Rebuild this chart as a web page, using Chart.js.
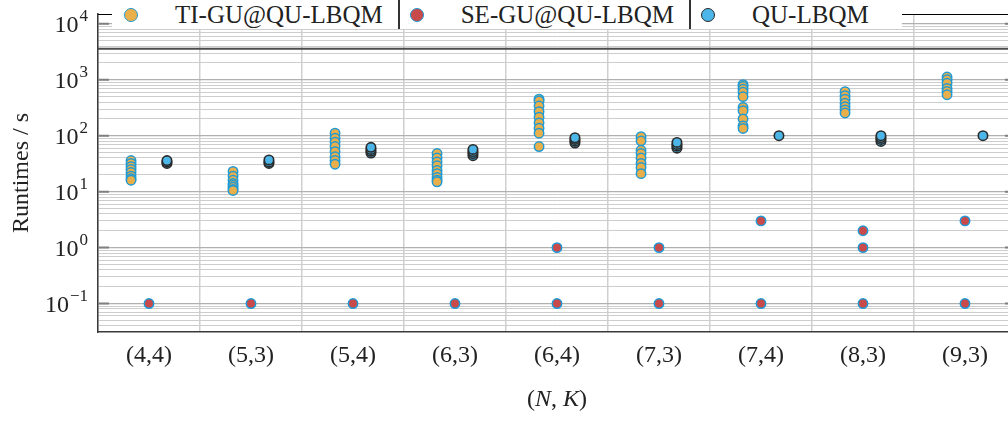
<!DOCTYPE html>
<html lang="en">
<head>
    <meta charset="UTF-8">
    <title>Runtimes per (N,K)</title>
    <script src="https://cdn.jsdelivr.net/npm/chart.js"></script>
    <style>
        html, body {
            margin: 0;
            padding: 0;
            background: #fff;
            overflow: hidden;
        }

        .wrap {
            position: relative;
            width: 1024px;
            height: 421px;
        }

        .legend {
            position: absolute;
            left: 112px;
            top: 0;
            width: 790px;
            height: 29px;
            background: #fff;
            display: flex;
            align-items: center;
            padding-left: 12px;
            box-sizing: border-box;
            font-family: 'Liberation Serif', serif;
            font-size: 25px;
            color: #222;
        }

        .legend .dot {
            width: 12px;
            height: 12px;
            border-radius: 50%;
            border: 1.5px solid;
            flex: none;
        }

        .legend .name {
            margin-left: 37px;
            margin-right: 15px;
            white-space: nowrap;
        }

        .legend .sep {
            width: 2px;
            align-self: stretch;
            background: #333;
            margin-right: 10px;
        }
    </style>
</head>
<body>
    <div class="wrap">
        <canvas id="runtimeChart"></canvas>
        <div class="legend" id="legend"></div>
    </div>

    <script>
        // categories and runtimes (seconds)
        const categories = ['(4,4)', '(5,3)', '(5,4)', '(6,3)', '(6,4)', '(7,3)', '(7,4)', '(8,3)', '(9,3)'];
        const seriesNames = ['TI-GU@QU-LBQM', 'SE-GU@QU-LBQM', 'QU-LBQM'];

        const tiGuRuntimes = [
            [36, 32, 28, 25, 22, 19, 17, 16],
            [23, 19, 16, 14, 13, 12, 11, 10.5],
            [111, 90, 77, 64, 52, 42, 36, 31],
            [48, 40, 34, 29, 24, 21, 18, 16, 15],
            [450, 420, 340, 270, 215, 170, 136, 111, 64],
            [96, 81, 55, 48, 40, 32, 27, 21],
            [820, 760, 680, 600, 500, 320, 280, 200, 150, 135],
            [615, 520, 450, 380, 330, 290, 255],
            [1120, 1000, 870, 700, 620, 540]
        ];
        const seGuRuntimes = [
            [0.1], [0.1], [0.1], [0.1], [0.1, 1], [0.1, 1], [0.1, 3], [0.1, 1, 2], [0.1, 3]
        ];
        const quLbqmRuntimes = [
            [32, 34, 36],
            [32, 34, 37],
            [49, 53, 57, 62],
            [44, 48, 52, 57],
            [74, 80, 86, 92],
            [60, 65, 70, 76],
            [100],
            [79, 86, 93, 100],
            [100]
        ];
        const timeoutSeconds = 3600;
        const yExponents = [-1, 0, 1, 2, 3, 4];
        const yRange = [0.031, 15000];
        const yTitle = 'Runtimes / s';

        // look of the three series
        const seriesStyles = [
            { fill: '#E9AF4A', edge: '#1E9AD6', shift: -0.176 },
            { fill: '#C94A4B', edge: '#1E9AD6', shift: 0 },
            { fill: '#4DB6E8', edge: '#2a2a2a', shift: 0.176 }
        ];
        const serif = "'Liberation Serif', serif";

        function toPoints(groups, shift) {
            const pts = [];
            groups.forEach((vals, i) => vals.forEach(v => pts.push({ x: i + shift, y: v })));
            return pts;
        }

        const runtimeSets = [tiGuRuntimes, seGuRuntimes, quLbqmRuntimes];
        const datasets = runtimeSets.map((groups, k) => ({
            type: 'scatter',
            label: seriesNames[k],
            data: toPoints(groups, seriesStyles[k].shift),
            backgroundColor: seriesStyles[k].fill,
            borderColor: seriesStyles[k].edge,
            pointRadius: 4.7,
            pointBorderWidth: k === 2 ? 1.6 : 1.5
        }));
        datasets.push({
            type: 'line',
            label: 'timeout',
            data: [{ x: -0.5, y: timeoutSeconds }, { x: categories.length - 0.5, y: timeoutSeconds }],
            borderColor: '#4d4d4d',
            borderWidth: 2,
            pointRadius: 0
        });

        // legend as plain html over the top frame
        const legendEl = document.getElementById('legend');
        seriesNames.forEach((name, k) => {
            if (k > 0) {
                const sep = document.createElement('span');
                sep.className = 'sep';
                legendEl.appendChild(sep);
            }
            const dot = document.createElement('span');
            dot.className = 'dot';
            dot.style.background = seriesStyles[k].fill;
            dot.style.borderColor = seriesStyles[k].edge;
            legendEl.appendChild(dot);
            const txt = document.createElement('span');
            txt.className = 'name';
            txt.textContent = name;
            legendEl.appendChild(txt);
        });

        // frame top, inward ticks, 10^n labels, axis titles
        const axisDecor = {
            id: 'axisDecor',
            afterDraw(chart) {
                const { ctx, chartArea: a, scales: { x, y } } = chart;
                ctx.save();

                ctx.strokeStyle = '#000';
                ctx.lineWidth = 1;
                ctx.beginPath();
                ctx.moveTo(a.left, a.top + 0.5);
                ctx.lineTo(a.right, a.top + 0.5);
                ctx.stroke();

                ctx.strokeStyle = '#808080';
                ctx.lineWidth = 2;
                y.ticks.filter(t => t.major).forEach(t => {
                    const py = y.getPixelForValue(t.value);
                    ctx.beginPath();
                    ctx.moveTo(a.left, py);
                    ctx.lineTo(a.left + 11, py);
                    ctx.moveTo(a.right, py);
                    ctx.lineTo(a.right - 11, py);
                    ctx.stroke();
                });

                ctx.fillStyle = '#222';
                ctx.textBaseline = 'middle';
                yExponents.forEach(e => {
                    const py = y.getPixelForValue(Math.pow(10, e)) + 2;
                    const sup = String(e).replace('-', '\u2212');
                    ctx.font = '17px ' + serif;
                    const sw = ctx.measureText(sup).width;
                    const rx = a.left - 10;
                    ctx.textAlign = 'left';
                    ctx.fillText(sup, rx - sw, py - 9);
                    ctx.font = '24px ' + serif;
                    ctx.textAlign = 'right';
                    ctx.fillText('10', rx - sw - 1, py);
                });

                // y title, centred on the plot height
                ctx.save();
                ctx.translate(22, (a.top + a.bottom) / 2);
                ctx.rotate(-Math.PI / 2);
                ctx.font = '24px ' + serif;
                ctx.textAlign = 'center';
                ctx.fillText(yTitle, 0, 0);
                ctx.restore();

                const parts = [['(', 'normal'], ['N', 'italic'], [', ', 'normal'], ['K', 'italic'], [')', 'normal']];
                let total = 0;
                parts.forEach(p => {
                    ctx.font = p[1] + ' 24px ' + serif;
                    total += ctx.measureText(p[0]).width;
                });
                let px = (a.left + a.right) / 2 - total / 2;
                ctx.textAlign = 'left';
                parts.forEach(p => {
                    ctx.font = p[1] + ' 24px ' + serif;
                    ctx.fillText(p[0], px, 400);
                    px += ctx.measureText(p[0]).width;
                });

                ctx.restore();
            }
        };

        const chart = new Chart(document.getElementById('runtimeChart'), {
            type: 'scatter',
            data: { datasets },
            plugins: [axisDecor],
            options: {
                responsive: true,
                maintainAspectRatio: false,
                animation: false,
                events: [],
                layout: { padding: { top: 14, right: 8, bottom: 0, left: 0 } },
                plugins: {
                    legend: { display: false },
                    tooltip: { enabled: false }
                },
                scales: {
                    x: {
                        type: 'linear',
                        min: -0.5,
                        max: categories.length - 0.5,
                        afterBuildTicks: s => { s.ticks = categories.map((c, i) => ({ value: i })); },
                        afterFit: s => { s.height = 89; },
                        grid: { offset: true, color: '#cfcfcf', lineWidth: 1.5, drawTicks: false },
                        border: { color: '#3a3a3a', width: 1.5 },
                        ticks: {
                            autoSkip: false,
                            maxRotation: 0,
                            padding: 9,
                            color: '#222',
                            font: { family: serif, size: 24 },
                            callback: v => categories[v]
                        }
                    },
                    y: {
                        type: 'logarithmic',
                        min: yRange[0],
                        max: yRange[1],
                        afterBuildTicks: s => {
                            const ticks = [];
                            for (let e = yExponents[0] - 1; e <= yExponents[yExponents.length - 1]; e++) {
                                for (let m = 1; m < 10; m++) {
                                    const v = m * Math.pow(10, e);
                                    if (v >= yRange[0] && v <= yRange[1]) ticks.push({ value: v, major: m === 1 });
                                }
                            }
                            s.ticks = ticks;
                        },
                        afterFit: s => { s.width = 98; },
                        grid: {
                            drawTicks: false,
                            color: c => (c.tick && c.tick.major ? '#b0b0b0' : '#cdcdcd'),
                            lineWidth: c => (c.tick && c.tick.major ? 1.2 : 1)
                        },
                        border: { color: '#3a3a3a', width: 1.5 },
                        ticks: { display: false, autoSkip: false }
                    }
                }
            }
        });
    </script>
</body>
</html>
